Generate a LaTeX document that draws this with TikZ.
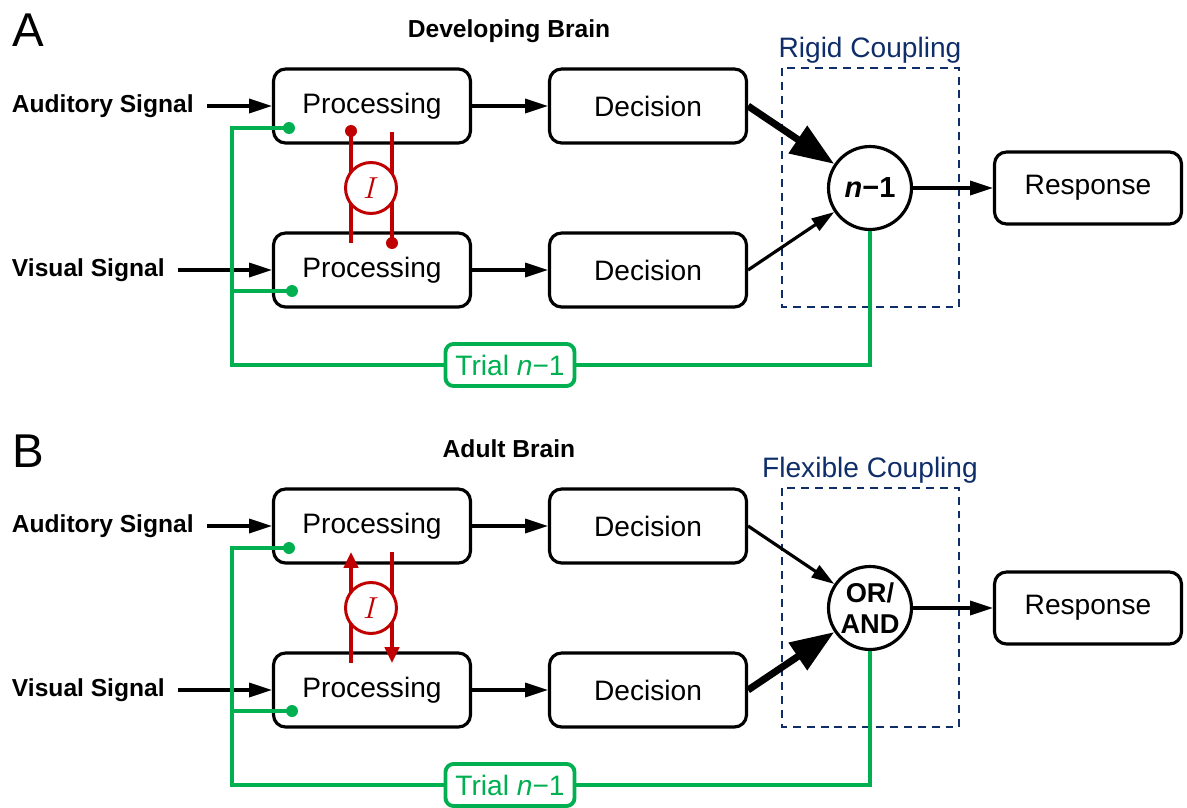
\documentclass[tikz,border=0pt]{standalone}
\usepackage{fontspec}
\setmainfont{Liberation Sans}
\usetikzlibrary{arrows.meta,calc}

\definecolor{trialgreen}{RGB}{0,176,80}
\definecolor{interred}{RGB}{192,0,0}
\definecolor{couplenavy}{RGB}{15,45,105}

\tikzset{
	procbox/.style={draw, line width=1.8pt, rounded corners=0.24cm, fill=white, minimum width=3.94cm, minimum height=1.48cm, inner sep=0pt, font=\fontsize{16}{19}\selectfont},
	respbox/.style={procbox, minimum width=3.74cm, minimum height=1.44cm},
	gate/.style={draw, circle, line width=1.8pt, fill=white, minimum size=1.66cm, inner sep=0pt, align=center, font=\bfseries\fontsize{16.5}{18}\selectfont},
	sig/.style={anchor=east, inner sep=0pt, font=\bfseries\fontsize{14}{16}\selectfont},
	brain/.style={anchor=base, inner sep=0pt, font=\bfseries\fontsize{14}{17}\selectfont},
	panel/.style={anchor=base west, inner sep=0pt, font=\fontsize{27}{30}\selectfont},
	couple/.style={anchor=base, inner sep=0pt, text=couplenavy, font=\fontsize{16}{19}\selectfont},
	couplebox/.style={draw=couplenavy, line width=1.3pt, dash pattern=on 4.5pt off 3.4pt},
	arr/.style={line width=1.8pt, -{Triangle[length=13pt,width=8pt]}},
	thickarr/.style={line width=4pt, -{Triangle[length=25pt,width=18pt]}},
	trial/.style={draw=trialgreen, line width=2.2pt, rounded corners=0.16cm, fill=white, text=trialgreen, minimum width=2.58cm, minimum height=0.84cm, inner sep=0pt, font=\fontsize{16}{19}\selectfont},
	greenline/.style={draw=trialgreen, line width=2.2pt},
	redline/.style={draw=interred, line width=2.2pt},
	inter/.style={draw=interred, circle, line width=1.7pt, fill=white, minimum size=1.02cm, inner sep=0pt, text=interred, font=\fontsize{17}{17}\selectfont},
	redarr/.style={redline, -{Triangle[length=9pt,width=8pt]}}
}

\begin{document}
\begin{tikzpicture}[x=0.02cm, y=-0.02cm]
	\useasboundingbox (0,0) rectangle (1187,808);
	%%%%% PANEL A %%%%%
	
	\node[panel] (labA) at (12,47) {A};
	\node[brain] (titA) at (509,37) {Developing Brain};
	
	\draw[couplebox] (782,68) rectangle (959,307);
	\node[couple] (cplA) at (870,57) {Rigid Coupling};
	
	\node[sig] (sa1) at (194,106) {Auditory Signal};
	\node[sig] (sv1) at (165,270) {Visual Signal};
	\node[procbox] (pa1) at (372,106) {Processing};
	\node[procbox] (pv1) at (372,270) {Processing};
	\node[procbox] (da1) at (648,106) {Decision};
	\node[procbox] (dv1) at (648,270) {Decision};
	\node[gate] (gA) at (870,188) {\textit{n}−1};
	\node[respbox] (rA) at (1088,188) {Response};
	\node[trial] (trA) at (510,365) {Trial \textit{n}−1};
	
	\draw[arr, shorten <=0.26cm] (sa1) -- (pa1);
	\draw[arr, shorten <=0.26cm] (sv1) -- (pv1);
	\draw[arr] (pa1) -- (da1);
	\draw[arr] (pv1) -- (dv1);
	\draw[thickarr] (da1.east) -- (gA);
	\draw[arr] (dv1.east) -- (gA);
	\draw[arr] (gA) -- (rA);
	
	% trial history feedback
	\coordinate (ga1) at (289,128);
	\coordinate (gv1) at (292,291);
	\coordinate (jA) at (232,291);
	\draw[greenline] (ga1) -| (jA) |- (trA) -| (gA);
	\draw[greenline] (jA) -- (gv1);
	\fill[trialgreen] (ga1) circle (0.12cm);
	\fill[trialgreen] (gv1) circle (0.12cm);
	
	% interaction, inhibitory
	\coordinate (ia1) at (351,131);
	\coordinate (ia2) at (351,243);
	\coordinate (ia3) at (392,132);
	\coordinate (ia4) at (392,243);
	\draw[redline] (ia1) -- (ia2);
	\draw[redline] (ia3) -- (ia4);
	\fill[interred] (ia1) circle (0.12cm);
	\fill[interred] (ia4) circle (0.12cm);
	\node[inter] (iA) at (371,188) {$I$};
	
	%%%%% PANEL B %%%%%
	
	\node[panel] (labB) at (12,467) {B};
	\node[brain] (titB) at (509,457) {Adult Brain};
	
	\draw[couplebox] (782,488) rectangle (959,727);
	\node[couple] (cplB) at (870,477) {Flexible Coupling};
	
	\node[sig] (sa2) at (194,526) {Auditory Signal};
	\node[sig] (sv2) at (165,690) {Visual Signal};
	\node[procbox] (pa2) at (372,526) {Processing};
	\node[procbox] (pv2) at (372,690) {Processing};
	\node[procbox] (da2) at (648,526) {Decision};
	\node[procbox] (dv2) at (648,690) {Decision};
	\node[gate, font=\bfseries\fontsize{15.5}{18}\selectfont] (gB) at (870,608) {OR/\\AND};
	\node[respbox] (rB) at (1088,608) {Response};
	\node[trial] (trB) at (510,785) {Trial \textit{n}−1};
	
	\draw[arr, shorten <=0.26cm] (sa2) -- (pa2);
	\draw[arr, shorten <=0.26cm] (sv2) -- (pv2);
	\draw[arr] (pa2) -- (da2);
	\draw[arr] (pv2) -- (dv2);
	\draw[arr] (da2.east) -- (gB);
	\draw[thickarr] (dv2.east) -- (gB);
	\draw[arr] (gB) -- (rB);
	
	% trial history feedback
	\coordinate (ga2) at (289,548);
	\coordinate (gv2) at (292,711);
	\coordinate (jB) at (232,711);
	\draw[greenline] (ga2) -| (jB) |- (trB) -| (gB);
	\draw[greenline] (jB) -- (gv2);
	\fill[trialgreen] (ga2) circle (0.12cm);
	\fill[trialgreen] (gv2) circle (0.12cm);
	
	% interaction, facilitating
	\coordinate (ib1) at (351,663);
	\coordinate (ib2) at (351,552);
	\coordinate (ib3) at (392,552);
	\coordinate (ib4) at (392,663);
	\draw[redarr] (ib1) -- (ib2);
	\draw[redarr] (ib3) -- (ib4);
	\node[inter] (iB) at (371,608) {$I$};
\end{tikzpicture}
\end{document}
